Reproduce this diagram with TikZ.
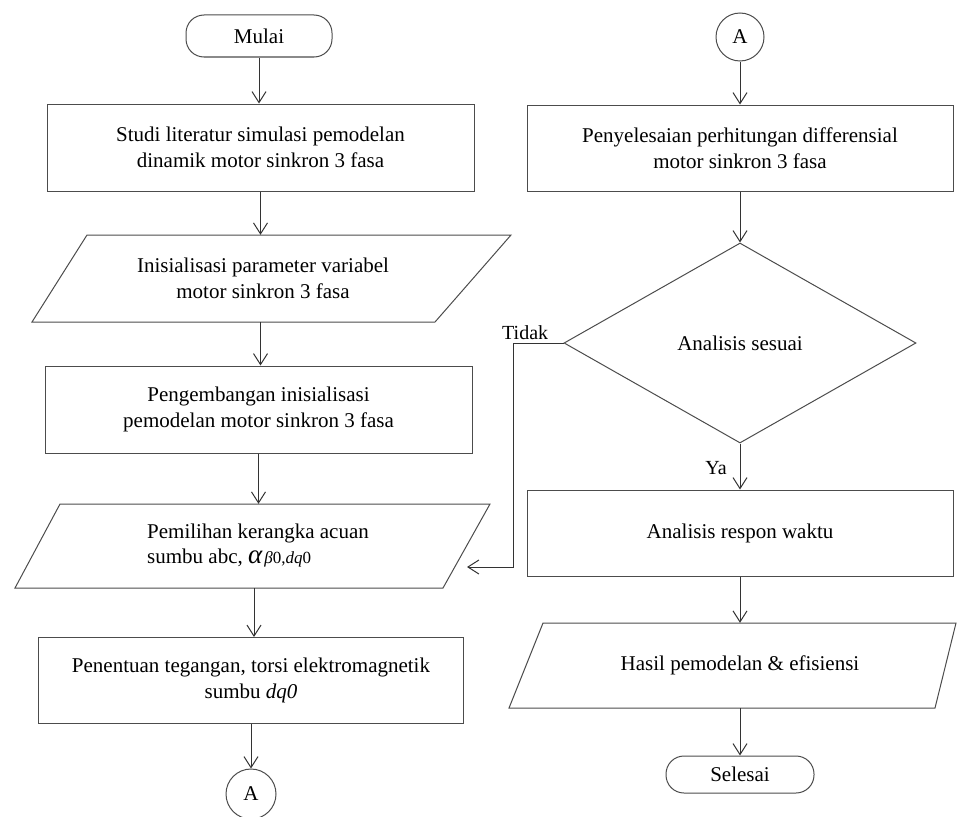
\documentclass[tikz,border=0pt]{standalone}
\usepackage{fontspec}
\setmainfont{Liberation Serif}
\usetikzlibrary{arrows.meta,shapes.geometric,calc}
\begin{document}
\begin{tikzpicture}[x=1pt,y=-1pt,
  base/.style={font=\fontsize{21}{26}\selectfont, align=center, inner sep=0pt},
  box/.style={base, draw=black!70, line width=1pt, rectangle},
  term/.style={base, draw=black!70, line width=1pt, rectangle, rounded corners=18pt},
  conn/.style={base, draw=black!70, line width=1pt, circle},
  ghost/.style={base, rectangle, draw=none},
  shp/.style={draw=black!70, line width=1pt, line join=miter},
  arr/.style={draw=black!80, line width=1pt, -{Straight Barb[length=11pt,width=14pt,line width=1pt]}},
  lbl/.style={font=\fontsize{20}{24}\selectfont, inner sep=0pt}
]
\useasboundingbox (0,0) rectangle (957,816);

% left column
\node[term, minimum width=146pt, minimum height=42pt] (mulai) at (259,36) {Mulai};
\node[box, minimum width=427pt, minimum height=87pt] (studi) at (260.5,147.5)
  {Studi literatur simulasi pemodelan\\dinamik motor sinkron 3 fasa};
\node[ghost, minimum width=400pt, minimum height=87pt] (inis) at (263,278.5)
  {Inisialisasi parameter variabel\\motor sinkron 3 fasa};
\draw[shp] (87,235) -- (511,235) -- (435,322) -- (32,322) -- cycle;
\node[box, minimum width=427pt, minimum height=87pt] (peng) at (258.5,409.5)
  {Pengembangan inisialisasi\\pemodelan motor sinkron 3 fasa};
\node[ghost, minimum width=380pt, minimum height=84pt] (pemi) at (258,546)
  {\begin{tabular}{@{}l@{}}Pemilihan kerangka acuan\\[-1pt]
   sumbu abc, {\fontsize{27}{27}\selectfont\itshape α}\kern2pt{\fontsize{17}{17}\selectfont\itshape β\upshape 0,\itshape dq\upshape 0}\end{tabular}};
\draw[shp] (60,504) -- (490,504) -- (443,588) -- (15,588) -- cycle;
\node[box, minimum width=425pt, minimum height=86pt] (pene) at (251,680)
  {Penentuan tegangan, torsi elektromagnetik\\sumbu \textit{dq0}};
\node[conn, minimum size=50pt] (a1) at (251,794) {A};

% right column
\node[conn, minimum size=48pt] (a2) at (740,37) {A};
\node[box, minimum width=426pt, minimum height=86pt] (peny) at (740,148)
  {Penyelesaian perhitungan differensial\\motor sinkron 3 fasa};
\node[base, draw=black!70, line width=1pt, diamond, minimum width=352pt, minimum height=200pt] (dec) at (740,343)
  {Analisis sesuai};
\node[box, minimum width=426pt, minimum height=86pt] (anal) at (740,533)
  {Analisis respon waktu};
\node[ghost, minimum width=400pt, minimum height=85pt] (hasil) at (740,665.5)
  {Hasil pemodelan \& efisiensi};
\draw[shp] (543,623) -- (956,623) -- (935,708) -- (509,708) -- cycle;
\node[term, minimum width=148pt, minimum height=37pt] (selesai) at (740,774.5) {Selesai};

% connectors
\draw[arr] (mulai.south) -- (mulai.south |- studi.north);
\draw[arr] (studi.south) -- (studi.south |- inis.north);
\draw[arr] (studi.south |- inis.south) -- (studi.south |- peng.north);
\draw[arr] (peng.south) -- (peng.south |- pemi.north);
\coordinate (pp) at (254,637);
\draw[arr] (pp |- pemi.south) -- (pp);
\draw[arr] (pene.south) -- (a1.north);

\draw[arr] (a2.south) -- (peny.north);
\draw[arr] (peny.south) -- (dec.north);
\draw[arr] (dec.south) -- (anal.north);
\draw[arr] (anal.south) -- (hasil.north);
\draw[arr] (hasil.south) -- (selesai.north);

\coordinate (fbx) at (513,343);
\coordinate (fbend) at (467,567);
\draw[arr] (dec.west) -- (fbx) -- (fbx |- fbend) -- (fbend);

\node[lbl, anchor=south west] (tidak) at (502,340) {Tidak};
\node[lbl, anchor=east] (ya) at (727,468) {Ya};
\end{tikzpicture}
\end{document}
